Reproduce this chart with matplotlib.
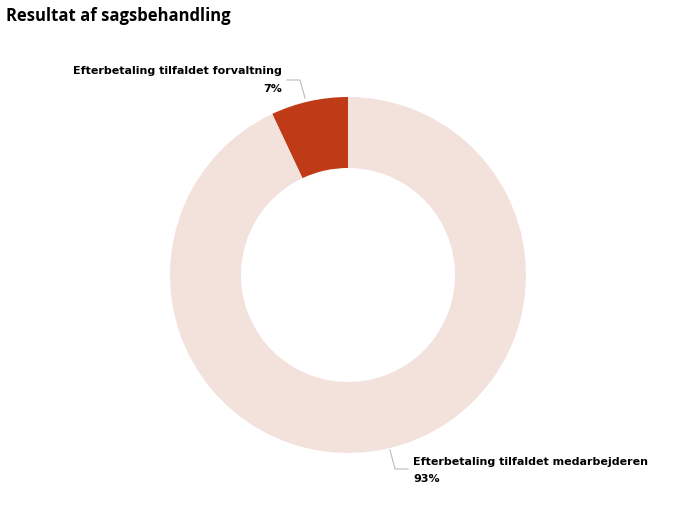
import matplotlib.pyplot as plt

labels = ["Efterbetaling tilfaldet forvaltning", "Efterbetaling tilfaldet medarbejderen"]
values = [7, 93]
colors = ["#BF3A17", "#F3E1DC"]

fig = plt.figure(figsize=(6.96, 5.22), dpi=100)
ax = fig.add_axes([(348-178)/696, 1-(275+178)/522, 356/696, 356/522])
ax.pie(values, colors=colors, startangle=90, counterclock=True,
       wedgeprops=dict(width=71/178, edgecolor="white", linewidth=0))
ax.set_aspect("equal")
ax.set_xlim(-1, 1); ax.set_ylim(-1, 1)

fig.text(6/696, 1-16/522, "Resultat af sagsbehandling", fontsize=12, fontweight="bold",
         va="center", ha="left", family="Open Sans")
fig.text(282/696, 1-71/522, labels[0], fontsize=8, fontweight="bold", ha="right", va="center")
fig.text(282/696, 1-89/522, f"{values[0]}%", fontsize=8, fontweight="bold", ha="right", va="center")
fig.text(413/696, 1-462/522, labels[1], fontsize=8, fontweight="bold", ha="left", va="center")
fig.text(413/696, 1-479/522, f"{values[1]}%", fontsize=8, fontweight="bold", ha="left", va="center")

# leader lines
fig.add_artist(plt.Line2D([287/696, 300/696, 305/696], [1-80/522, 1-80/522, 1-98/522], color="#BBBBBB", lw=0.8))
fig.add_artist(plt.Line2D([390/696, 395/696, 408/696], [1-450/522, 1-469/522, 1-469/522], color="#BBBBBB", lw=0.8))

fig.savefig("out.png", dpi=100)
